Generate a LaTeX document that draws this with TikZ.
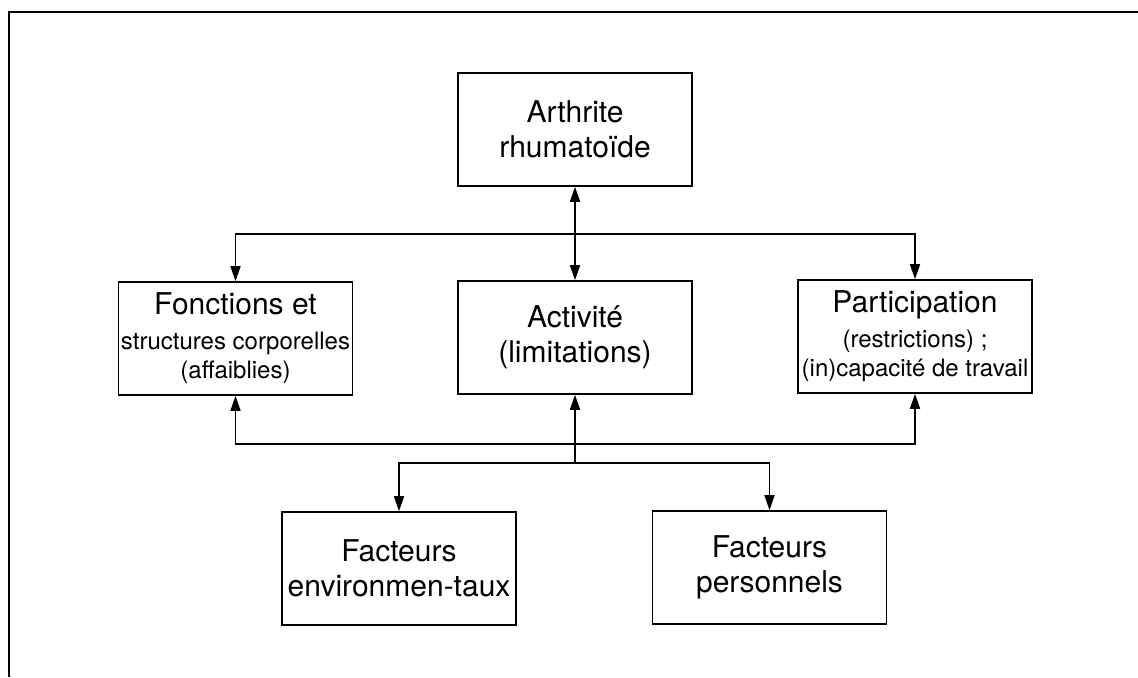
\documentclass[tikz,border=0pt]{standalone}
\usepackage{fontspec}
\setmainfont{TeX Gyre Heros}
\usetikzlibrary{positioning}
\usetikzlibrary{arrows.meta}
\newcommand{\smtxt}{\fontsize{12}{14.5}\selectfont}
\tikzset{
    mybox/.style = {rectangle, draw=black, line width=0.8pt, minimum width=117pt, minimum height=56.5pt, inner sep=0pt, align=center, font=\fontsize{15}{17.5}\selectfont},
    edgen/.style = {-{Triangle[length=7.5pt,width=5pt]}, line width=0.8pt},
    edgeb/.style = {{Triangle[length=7.5pt,width=5pt]}-{Triangle[length=7.5pt,width=5pt]}, line width=0.8pt},
    frame/.style = {line width=0.9pt}
}

\begin{document}
\begin{tikzpicture}[x=0.5pt,y=-0.5pt]
\useasboundingbox (0,0) rectangle (1138,677);
\draw[frame] (1138,12) -- (9,12) -- (9,677);
%
\node[mybox] at (575,129.5) (ar) {Arthrite\\rhumatoïde};
\node[mybox] at (235.5,338.5) (fo) {Fonctions et\\\smtxt structures corporelles\\[-3pt]\smtxt (affaiblies)};
\node[mybox] at (575,337.5) (ac) {Activité\\(limitations)};
\node[mybox] at (915,336.5) (pa) {Participation\\\smtxt (restrictions) ;\\[-3pt]\smtxt (in)capacité de travail};
\node[mybox] at (399,568.5) (en) {Facteurs\\environmen-taux};
\node[mybox] at (769.5,567.5) (pe) {Facteurs\\personnels};
%
\coordinate (top) at (575,234);
\coordinate (low) at (575,444);
\coordinate (fac) at (575,463);
%
\draw[edgeb] (ar) -- (ac);
\draw[edgen] (top) -| (fo);
\draw[edgen] (top) -| (pa);
\draw[edgen] (low) -| (fo);
\draw[edgen] (low) -| (pa);
\draw[edgen] (fac) -- (ac);
\draw[edgen] (fac) -| (en);
\draw[edgen] (fac) -| (pe);
\end{tikzpicture}
\end{document}
